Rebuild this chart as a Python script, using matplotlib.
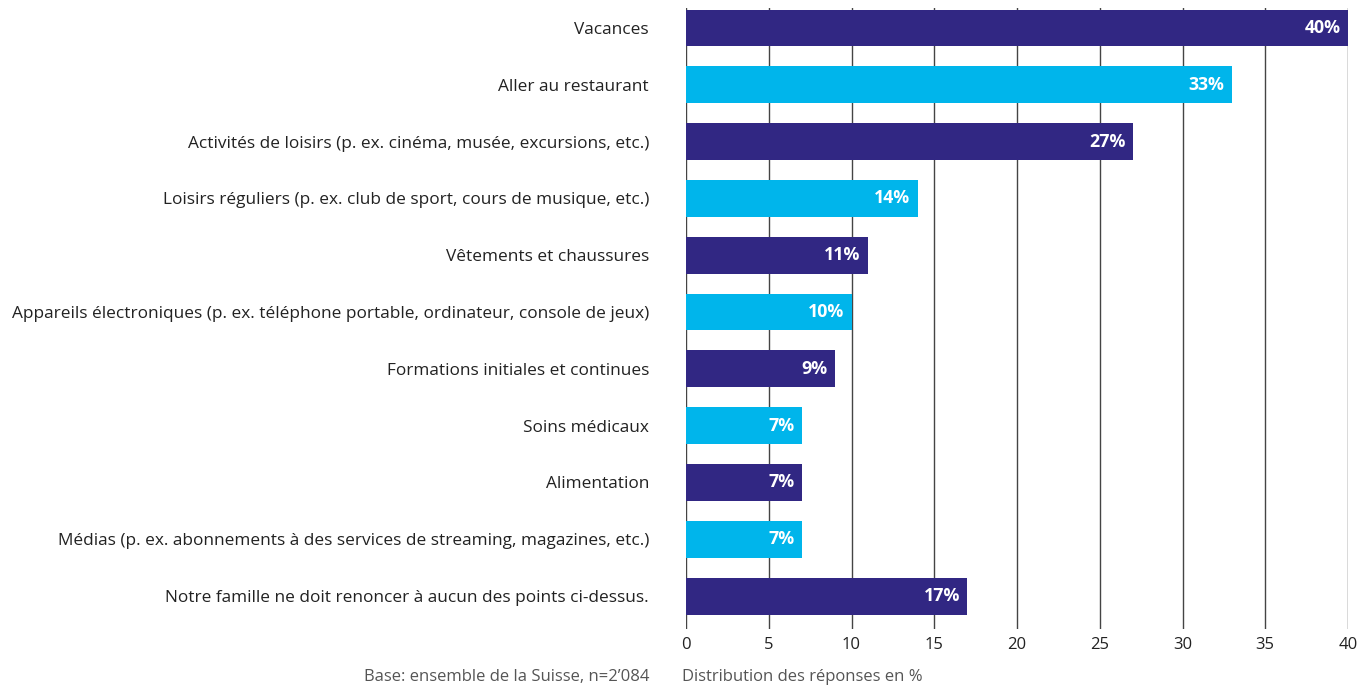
import matplotlib.pyplot as plt

plt.rcParams["font.family"] = ["Open Sans", "DejaVu Sans"]

categories = [
    "Vacances",
    "Aller au restaurant",
    "Activités de loisirs (p. ex. cinéma, musée, excursions, etc.)",
    "Loisirs réguliers (p. ex. club de sport, cours de musique, etc.)",
    "Vêtements et chaussures",
    "Appareils électroniques (p. ex. téléphone portable, ordinateur, console de jeux)",
    "Formations initiales et continues",
    "Soins médicaux",
    "Alimentation",
    "Médias (p. ex. abonnements à des services de streaming, magazines, etc.)",
    "Notre famille ne doit renoncer à aucun des points ci-dessus.",
]
values = [40, 33, 27, 14, 11, 10, 9, 7, 7, 7, 17]
x_ticks = [0, 5, 10, 15, 20, 25, 30, 35, 40]

DARK = "#312783"
LIGHT = "#00b5eb"
W, H = 1362, 686

fig = plt.figure(figsize=(W / 100, H / 100), dpi=100)
ax = fig.add_axes([686 / W, 1 - 629 / H, (1348 - 686) / W, (629 - 8) / H])

ypos = list(range(len(categories)))
colors = [DARK if i % 2 == 0 else LIGHT for i in ypos]

# vertical grid lines behind the bars
for x in x_ticks:
    ax.axvline(x, color="#444444", lw=1.0, zorder=0)

ax.barh(ypos, values, height=0.65, color=colors, zorder=2)
for y, v in zip(ypos, values):
    ax.text(v - 0.45, y, f"{v}%", ha="right", va="center",
            color="white", fontsize=12.8, fontweight="bold", zorder=3)

ax.set_xlim(0, 40)
ax.set_ylim(10.58, -0.352)
ax.set_xticks(x_ticks)
ax.set_yticks(ypos)
ax.set_yticklabels(categories, fontsize=12.4)
ax.tick_params(axis="both", length=0, colors="#222222")
ax.tick_params(axis="x", labelsize=12, pad=6)
ax.tick_params(axis="y", pad=26.6)
for s in ax.spines.values():
    s.set_visible(False)

fig.text(649 / W, 1 - 677 / H, "Base: ensemble de la Suisse, n=2\u2019084",
         ha="right", va="center", fontsize=12, color="#555555")
fig.text(682 / W, 1 - 677 / H, "Distribution des réponses en %",
         ha="left", va="center", fontsize=12, color="#555555")

fig.savefig("out.png", dpi=100)
